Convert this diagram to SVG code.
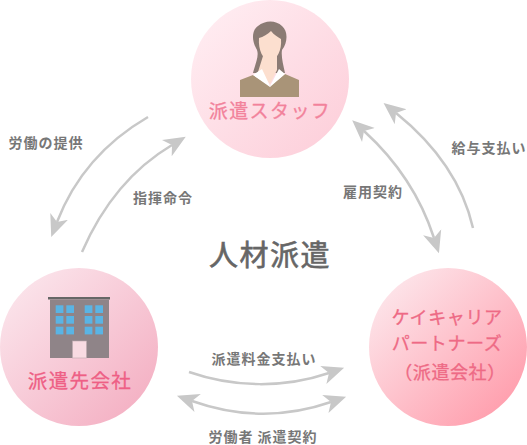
<svg xmlns="http://www.w3.org/2000/svg" width="527" height="445" viewBox="0 0 527 445">
<style>
text{font-family:"Noto Sans CJK JP","Noto Sans",sans-serif}
.lb{font-size:14px;font-weight:700;fill:#777;letter-spacing:1px;text-anchor:middle}
.nm{font-size:19px;text-anchor:middle;letter-spacing:1.4px;stroke-width:.3px}
.ag{font-size:18px;letter-spacing:.6px;fill:#ee6a85;stroke:#ee6a85}
.cn{fill:none;stroke:#c8c8c8;stroke-width:2.5}
.win{fill:#5ab4e4}
</style>
<defs>
<linearGradient id="gt" x1="0.1" y1="0.1" x2="0.9" y2="0.9"><stop offset="0" stop-color="#ffecf1"/><stop offset="1" stop-color="#fdd0db"/></linearGradient>
<linearGradient id="gl" x1="0.1" y1="0.1" x2="0.9" y2="0.9"><stop offset="0" stop-color="#fbe4eb"/><stop offset="1" stop-color="#f4b0c3"/></linearGradient>
<linearGradient id="gr" x1="0.1" y1="0.1" x2="0.9" y2="0.9"><stop offset="0" stop-color="#fde6eb"/><stop offset="1" stop-color="#ff9dac"/></linearGradient>
<marker id="ah" markerUnits="userSpaceOnUse" markerWidth="26" markerHeight="26" refX="6" refY="12" orient="auto-start-reverse" viewBox="0 0 26 24"><path d="M0 2.500L22 12L0 21.500L6 12Z" fill="#c8c8c8"/></marker>
</defs>
<g id="node-staff">
<circle cx="270" cy="79" r="79" fill="url(#gt)"/>
<path d="M253 73C256 62 259 56 257 50C251 40 252 30 258 26C265 20 276 20 282 26C288 31 288 42 282 50C281 56 283 64 285 73Z" fill="#8b7b74"/>
<path d="M259 38C263 37 268 34 271 31C274 35 278 37 281 39C282 50 277 60 270 61C263 60 258 50 259 38Z" fill="#fcdfcf"/>
<path d="M263 56H277V70L270 84L258 72Z" fill="#fcdfcf"/>
<path d="M240 97V80L253 75L270 86L285 74L299 80V97Z" fill="#a99478"/>
<path d="M253 75L262 69L270 86L279 69L285 74L270 87Z" fill="#fff"/>
<text class="nm" x="270" y="118" fill="#f2829b" stroke="#f2829b">派遣スタッフ</text>
</g>
<g id="node-client">
<circle cx="79" cy="347" r="79" fill="url(#gl)"/>
<rect x="48" y="297" width="62" height="2.5" fill="#666"/>
<rect x="50" y="299.5" width="59" height="58.500" fill="#8f8488"/>
<g class="win">
<rect x="55.700" y="305.300" width="7.700" height="7.700"/><rect x="66.300" y="305.300" width="7.700" height="7.700"/><rect x="84.700" y="305.300" width="7.700" height="7.700"/><rect x="95.300" y="305.300" width="7.700" height="7.700"/>
<rect x="55.700" y="316" width="7.700" height="7.700"/><rect x="66.300" y="316" width="7.700" height="7.700"/><rect x="84.700" y="316" width="7.700" height="7.700"/><rect x="95.300" y="316" width="7.700" height="7.700"/>
<rect x="55.700" y="326.700" width="7.700" height="7.700"/><rect x="66.300" y="326.700" width="7.700" height="7.700"/><rect x="84.700" y="326.700" width="7.700" height="7.700"/><rect x="95.300" y="326.700" width="7.700" height="7.700"/>
</g>
<rect x="72.500" y="341" width="14" height="17" fill="#f8dbe2" stroke="#bcaab0" stroke-width=".6"/>
<text class="nm" x="80" y="388" fill="#ee5f85" stroke="#ee5f85" style="font-size:19.500px">派遣先会社</text>
</g>
<g id="node-agency">
<circle cx="448" cy="347" r="79" fill="url(#gr)"/>
<text class="nm ag" x="447" y="324">ケイキャリア</text>
<text class="nm ag" x="447" y="350">パートナーズ</text>
<text class="nm ag" x="450" y="379">（派遣会社）</text>
</g>
<g id="connectors">
<path class="cn" d="M473 228C462 180 432 142 396 113" marker-end="url(#ah)"/>
<path class="cn" d="M364 131C398 162 421 198 434 238" marker-start="url(#ah)" marker-end="url(#ah)"/>
<path class="cn" d="M148 117C105 142 74 178 57 222" marker-end="url(#ah)"/>
<path class="cn" d="M82 252C102 206 130 170 172 145" marker-end="url(#ah)"/>
<path class="cn" d="M189 372C235 388 285 388 329 373" marker-end="url(#ah)"/>
<path class="cn" d="M192 401C240 418 285 418 331 402" marker-start="url(#ah)" marker-end="url(#ah)"/>
</g>
<g id="labels">
<text class="lb" x="46" y="148">労働の提供</text>
<text class="lb" x="163" y="203">指揮命令</text>
<text class="lb" x="373" y="197">雇用契約</text>
<text class="lb" x="489" y="153">給与支払い</text>
<text class="lb" x="264" y="364">派遣料金支払い</text>
<text class="lb" x="263" y="442">労働者 派遣契約</text>
<text x="270" y="266" font-size="29" fill="#666" stroke="#666" stroke-width=".6" text-anchor="middle" letter-spacing="1.500">人材派遣</text>
</g>
</svg>
